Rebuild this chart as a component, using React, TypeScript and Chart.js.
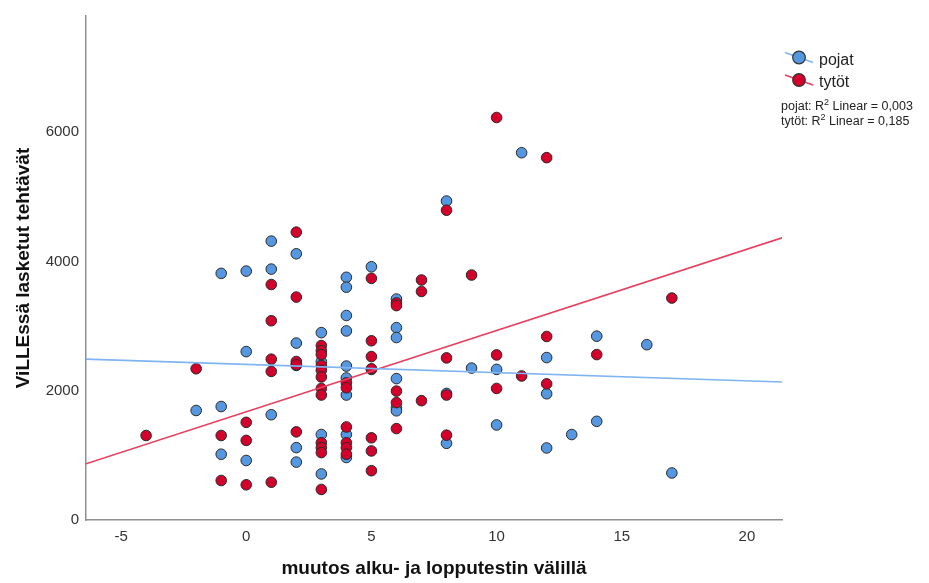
import React, { useEffect, useRef } from "react";
import { Chart, registerables } from "chart.js";

Chart.register(...registerables);

// pojat (boys): [muutos, tehtävät]
const pojatX = [-2, -1, -1, -1, 0, 0, 0, 1, 1, 1, 2, 2, 2, 2, 2, 3, 3, 3, 3, 4, 4, 4, 4, 4, 4, 4, 4, 4, 5, 5, 6, 6, 6, 6, 6, 6, 8, 8, 8, 9, 10, 10, 11, 12, 12, 12, 13, 14, 14, 16, 17];
const pojatY = [1695, 3817, 1756, 1018, 3852, 2606, 921, 4316, 3883, 1629, 4120, 2738, 2392, 1120, 896, 2900, 2453, 1323, 713, 3756, 3603, 3165, 2926, 2382, 2198, 1934, 1323, 967, 3919, 2330, 3420, 2977, 2824, 2188, 1740, 1690, 4936, 1959, 1186, 2351, 2331, 1471, 5684, 2514, 1954, 1115, 1323, 2845, 1527, 2713, 728];

// tytöt (girls)
const tytotX = [-4, -2, -1, -1, 0, 0, 0, 1, 1, 1, 1, 1, 2, 2, 2, 2, 2, 3, 3, 3, 3, 3, 3, 3, 3, 3, 3, 3, 3, 4, 4, 4, 4, 4, 4, 5, 5, 5, 5, 5, 5, 5, 6, 6, 6, 6, 6, 7, 7, 7, 8, 8, 8, 8, 9, 10, 10, 10, 11, 12, 12, 12, 14, 17];
const tytotY = [1308, 2341, 1308, 611, 1511, 1232, 545, 3644, 3084, 2489, 2300, 585, 4455, 3450, 2453, 2402, 1364, 2700, 2620, 2560, 2392, 2316, 2214, 2036, 1934, 1196, 1120, 1043, 473, 2122, 2046, 1440, 1196, 1120, 1018, 3740, 2774, 2529, 2341, 1272, 1069, 763, 3359, 3318, 1995, 1817, 1415, 3715, 3537, 1847, 4794, 2509, 1934, 1313, 3791, 6229, 2555, 2036, 2229, 5608, 2840, 2107, 2560, 3435];

// fit lines (intercept, slope)
const pojatFit = [2408, -12.7];
const tytotFit = [1675, 125.8];
const xRange = [-6.4, 21.4];
const yRange = [0, 7800];
const xTicks = [-5, 0, 5, 10, 15, 20];
const yTicks = [0, 2000, 4000, 6000];

const seriesNames = ["pojat", "tytöt"];
const r2Values = ["0,003", "0,185"];

const FONT = "'Liberation Sans', Arial, sans-serif";
const BLUE = "#5597e0";
const RED = "#d3002b";
const BLUE_LINE = "#7fb3f2";
const RED_LINE = "#e8405f";

const zip = (xs: number[], ys: number[]) => xs.map((x, i) => ({ x, y: ys[i] }));
const fitPts = (f: number[]) => xRange.map((x) => ({ x, y: f[0] + f[1] * x }));

const legendPlugin = {
  id: "spssLegend",
  afterDraw(chart: any) {
    const ctx = chart.ctx;
    ctx.save();
    const items = [
      { name: seriesNames[0], fill: BLUE, line: BLUE_LINE, cy: 57.5 },
      { name: seriesNames[1], fill: RED, line: RED_LINE, cy: 80 },
    ];
    for (const it of items) {
      ctx.strokeStyle = it.line;
      ctx.lineWidth = 1.5;
      ctx.beginPath();
      ctx.moveTo(785, it.cy - 5);
      ctx.lineTo(813, it.cy + 5);
      ctx.stroke();
      ctx.beginPath();
      ctx.arc(799, it.cy, 6.3, 0, Math.PI * 2);
      ctx.fillStyle = it.fill;
      ctx.fill();
      ctx.strokeStyle = "#333";
      ctx.lineWidth = 1.2;
      ctx.stroke();
      ctx.fillStyle = "#222";
      ctx.font = `16px ${FONT}`;
      ctx.textAlign = "left";
      ctx.textBaseline = "middle";
      ctx.fillText(it.name, 819, it.cy + 3);
    }
    const rows = [
      { name: seriesNames[0], v: r2Values[0], cy: 107 },
      { name: seriesNames[1], v: r2Values[1], cy: 122 },
    ];
    ctx.textBaseline = "middle";
    for (const r of rows) {
      let x = 781;
      ctx.font = `12.5px ${FONT}`;
      const a = `${r.name}: R`;
      ctx.fillText(a, x, r.cy);
      x += ctx.measureText(a).width;
      ctx.font = `9px ${FONT}`;
      ctx.fillText("2", x, r.cy - 4);
      x += ctx.measureText("2").width;
      ctx.font = `12.5px ${FONT}`;
      ctx.fillText(` Linear = ${r.v}`, x, r.cy);
    }
    ctx.restore();
  },
};

export default function App() {
  const ref = useRef<HTMLCanvasElement>(null);
  useEffect(() => {
    if (!ref.current) return;
    const chart = new Chart(ref.current, {
      type: "scatter",
      data: {
        datasets: [
          {
            type: "line",
            data: fitPts(pojatFit),
            borderColor: BLUE_LINE,
            borderWidth: 1.6,
            pointRadius: 0,
            fill: false,
            order: 0,
          } as any,
          {
            type: "line",
            data: fitPts(tytotFit),
            borderColor: RED_LINE,
            borderWidth: 1.6,
            pointRadius: 0,
            fill: false,
            order: 0,
          } as any,
          {
            label: seriesNames[1],
            data: zip(tytotX, tytotY),
            backgroundColor: RED,
            borderColor: "#2a2a2a",
            borderWidth: 1,
            pointRadius: 5.3,
            order: 1,
          },
          {
            label: seriesNames[0],
            data: zip(pojatX, pojatY),
            backgroundColor: BLUE,
            borderColor: "#2a2a2a",
            borderWidth: 1,
            pointRadius: 5.3,
            order: 2,
          },
        ],
      },
      options: {
        responsive: false,
        animation: false,
        layout: { padding: { left: 0, top: 10, right: 147, bottom: 0 } },
        plugins: { legend: { display: false }, tooltip: { enabled: false } },
        scales: {
          x: {
            type: "linear",
            min: xRange[0],
            max: xRange[1],
            afterFit: (s: any) => { s.height = 63; },
            afterBuildTicks: (s: any) => { s.ticks = xTicks.map((v) => ({ value: v })); },
            grid: { display: false, drawTicks: false },
            border: { display: true, color: "#8f8f8f", width: 1.5 },
            ticks: { padding: 8, color: "#333", font: { family: FONT, size: 15 }, callback: (v: any) => String(v) },
            title: {
              display: true,
              text: "muutos alku- ja lopputestin välillä",
              color: "#111",
              font: { family: FONT, size: 19, weight: "bold" },
              padding: { top: 0, bottom: 2.6 },
            },
          },
          y: {
            type: "linear",
            min: yRange[0],
            max: yRange[1],
            afterFit: (s: any) => { s.width = 86; },
            afterBuildTicks: (s: any) => { s.ticks = yTicks.map((v) => ({ value: v })); },
            grid: { display: false, drawTicks: false },
            border: { display: true, color: "#8f8f8f", width: 1.5 },
            ticks: { padding: 7, color: "#333", font: { family: FONT, size: 15 }, callback: (v: any) => String(v) },
            title: {
              display: true,
              text: "ViLLEssä lasketut tehtävät",
              color: "#111",
              font: { family: FONT, size: 19, weight: "bold" },
              padding: { top: 12, bottom: 0 },
            },
          },
        },
      },
      plugins: [legendPlugin],
    });
    return () => chart.destroy();
  }, []);
  return (
    <div style={{ position: "fixed", left: 0, top: 0, width: 929, height: 583, background: "#fff" }}>
      <canvas ref={ref} width={929} height={583} style={{ display: "block" }} />
    </div>
  );
}
